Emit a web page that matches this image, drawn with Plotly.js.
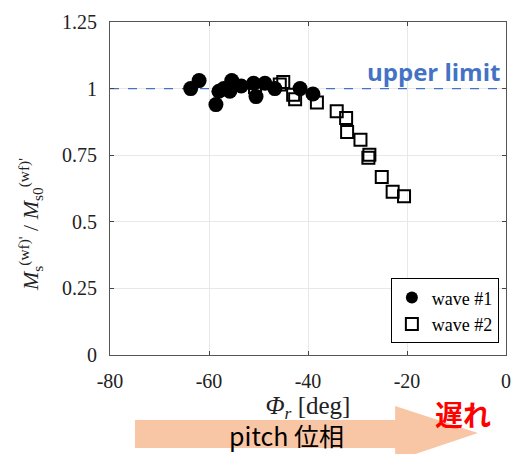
<!DOCTYPE html>
<html>
<head>
<meta charset="utf-8">
<script src="https://cdn.plot.ly/plotly-3.0.1.min.js"></script>
<style>html,body{margin:0;padding:0;background:#fff}#chart{width:511px;height:454px}</style>
</head>
<body>
<div id="chart"></div>
<script>
// wave #1 (filled circles)
const wave1Phase = [-63.7, -62.0, -58.6, -58.0, -57.0, -55.4, -55.8, -53.5, -51.0, -50.5, -48.7, -46.7, -41.6, -39.0];
const wave1Ratio = [1.00, 1.03, 0.94, 0.99, 1.00, 1.03, 0.99, 1.01, 1.02, 0.97, 1.02, 1.00, 1.00, 0.98];
// wave #2 (open squares)
const wave2Phase = [-50.7, -45.7, -45.0, -43.0, -42.6, -38.2, -34.2, -32.3, -32.1, -29.4, -27.6, -27.8, -25.1, -22.9, -20.6];
const wave2Ratio = [1.005, 1.015, 1.025, 0.977, 0.96, 0.948, 0.915, 0.89, 0.837, 0.808, 0.752, 0.74, 0.668, 0.613, 0.596];
// axis ticks
const xRange = [-80, 0];
const xTickVals = [-80, -60, -40, -20, 0];
const xTickText = ["-80", "-60", "-40", "-20", "0"];
const yTickVals = [0, 0.25, 0.5, 0.75, 1, 1.25];
const yTickText = ["0", "0.25", "0.5", "0.75", "1", "1.25"];
const upperLimit = 1;

const serif = "Liberation Serif, Times New Roman, serif";
const cjk = "Noto Sans CJK JP, Noto Sans, sans-serif";

const traces = [
  {
    x: xRange, y: [upperLimit, upperLimit], type: "scatter", mode: "lines", showlegend: false,
    line: {color: "#4472c4", width: 1.2, dash: "dash"}, hoverinfo: "skip"
  },
  {
    x: wave1Phase, y: wave1Ratio, name: "wave #1", type: "scatter", mode: "markers",
    marker: {symbol: "circle", size: 15, color: "#000000", line: {width: 0}}
  },
  {
    x: wave2Phase, y: wave2Ratio, name: "wave #2", type: "scatter", mode: "markers",
    marker: {symbol: "square-open", size: 12, color: "#000000", line: {width: 2}}
  }
];

const layout = {
  width: 511, height: 454,
  margin: {l: 110, r: 5, t: 22, b: 99},
  paper_bgcolor: "#ffffff", plot_bgcolor: "#ffffff",
  showlegend: true,
  legend: {
    x: 0.982, y: 0.035, xanchor: "right", yanchor: "bottom",
    bordercolor: "#000000", borderwidth: 1, bgcolor: "#ffffff",
    font: {family: serif, size: 18, color: "#000"},
    itemsizing: "constant", tracegroupgap: 0, itemwidth: 30
  },
  xaxis: {
    range: xRange, tickvals: xTickVals, ticktext: xTickText,
    showgrid: true, gridcolor: "#e8e8e8", zeroline: false,
    showline: true, linecolor: "#555", linewidth: 1, mirror: "ticks",
    ticks: "inside", ticklen: 4, tickcolor: "#444", ticklabelstandoff: 8,
    tickfont: {family: serif, size: 20, color: "#222"},
    title: {text: "<i>Φ</i><sub><i>r</i></sub> [deg]", font: {family: serif, size: 25, color: "#222"}, standoff: 2},
    automargin: false
  },
  yaxis: {
    range: [0, 1.25], tickvals: yTickVals, ticktext: yTickText,
    showgrid: true, gridcolor: "#e8e8e8", zeroline: false,
    showline: true, linecolor: "#555", linewidth: 1, mirror: "ticks",
    ticks: "inside", ticklen: 4, tickcolor: "#444", ticklabelstandoff: 8,
    tickfont: {family: serif, size: 20, color: "#222"},
    automargin: false
  },
  shapes: [
    {type: "path", xref: "paper", yref: "paper", layer: "above",
     path: "M 0.063 -0.195 L 0.72 -0.195 L 0.72 -0.153 L 0.929 -0.234 L 0.72 -0.318 L 0.72 -0.279 L 0.063 -0.279 Z",
     fillcolor: "#f8c6a4", line: {width: 0}}
  ],
  annotations: [
    {xref: "paper", yref: "paper", x: (30 - 110) / 396, y: (355 - 225) / 333, xanchor: "center", yanchor: "middle",
     textangle: -90, showarrow: false,
     text: "<i>M</i><sub>s</sub><sup>(wf)'</sup> / <i>M</i><sub>s0</sub><sup>(wf)'</sup>",
     font: {family: serif, size: 22, color: "#222"}},
    {xref: "paper", yref: "y", x: 0.99, y: upperLimit, xanchor: "right", yanchor: "bottom", yshift: -1,
     text: "<b>upper limit</b>", showarrow: false, font: {family: "Open Sans, Liberation Sans, sans-serif", size: 24, color: "#4472c4"}},
    {xref: "paper", yref: "paper", x: (286 - 110) / 396, y: (355 - 435) / 333, xanchor: "center", yanchor: "middle",
     text: "pitch 位相", showarrow: false, font: {family: cjk, size: 25, color: "#000"}},
    {xref: "paper", yref: "paper", x: (463 - 110) / 396, y: (355 - 414) / 333, xanchor: "center", yanchor: "middle",
     text: "<b>遅れ</b>", showarrow: false, font: {family: cjk, size: 28, color: "#ff0000"}}
  ]
};

Plotly.newPlot("chart", traces, layout, {displayModeBar: false, staticPlot: true});
</script>
</body>
</html>
